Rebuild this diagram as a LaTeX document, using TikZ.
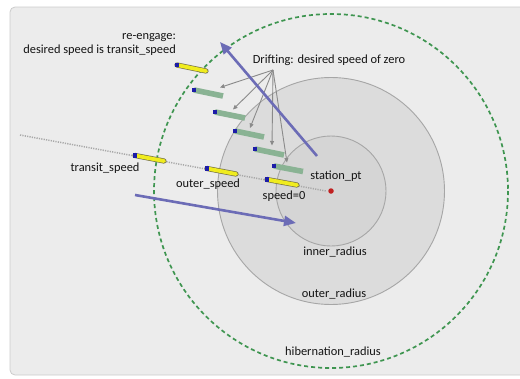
\documentclass[tikz,border=0pt]{standalone}
\usepackage{fontspec}
\setmainfont{Carlito}
\usetikzlibrary{arrows.meta}
\definecolor{panelbg}{HTML}{ECECEC}
\definecolor{panelrule}{HTML}{CBCBCB}
\definecolor{outerfill}{HTML}{DCDCDC}
\definecolor{innerfill}{HTML}{D5D5D5}
\definecolor{ringrule}{HTML}{A6A6A6}
\definecolor{hibgreen}{HTML}{3E9550}
\definecolor{pathgray}{HTML}{A8A8A8}
\definecolor{baryellow}{HTML}{F0EC1E}
\definecolor{barrim}{HTML}{7A7648}
\definecolor{bargreen}{HTML}{8AB394}
\definecolor{bowblue}{HTML}{1C1CA8}
\definecolor{movearrow}{HTML}{6C6CB6}
\definecolor{pointer}{HTML}{8A8A8A}
\definecolor{stationred}{HTML}{C02020}
\tikzset{
  label/.style={font=\fontsize{12.4}{14}\selectfont, inner sep=0pt, text=black!92},
  ybar/.style={line width=0.7pt, draw=barrim, double=baryellow, double distance=3.8pt, line cap=round},
  gbar/.style={line width=5.6pt, draw=bargreen, line cap=butt},
  bow/.style={fill=bowblue, inner sep=0pt, minimum size=4.8pt, rectangle},
  movement/.style={draw=movearrow, line width=2.6pt, -{Triangle[length=12pt,width=10pt]}},
  drift/.style={draw=pointer, line width=0.9pt, -{Triangle[length=4.5pt,width=4pt]}},
}
\begin{document}
\begin{tikzpicture}[x=1pt,y=-1pt]
\useasboundingbox (0,0) rectangle (520,378);
% panel
\draw[fill=panelbg, draw=panelrule, line width=0.8pt, rounded corners=5pt] (10,7) rectangle (530,375);
\clip (10,7) rectangle (520,375);
% station and its radii
\coordinate (stn) at (331,191);
\draw[fill=outerfill, draw=ringrule, line width=0.9pt] (stn) circle (113.5);
\draw[fill=innerfill, draw=ringrule, line width=0.9pt] (stn) circle (55);
\draw[hibgreen, line width=1.7pt, dash pattern=on 4pt off 3pt] (stn) circle (177);
% approach track
\coordinate (trackstart) at (20,135);
\coordinate (trackend) at (326,191);
\draw[pathgray, line width=1.5pt, dash pattern=on 1.2pt off 1.2pt] (trackstart) -- (trackend);
% vehicle positions at transit, outer and zero speed
\coordinate (t1) at (135,155.5); \coordinate (t2) at (164,161);
\coordinate (o1) at (207,168.5); \coordinate (o2) at (236,174);
\coordinate (z1) at (267,179.5); \coordinate (z2) at (297,185);
\draw[ybar] (t1) -- (t2); \node[bow] at (t1) {};
\draw[ybar] (o1) -- (o2); \node[bow] at (o1) {};
\draw[ybar] (z1) -- (z2); \node[bow] at (z1) {};
% re-engage position
\coordinate (r1) at (177,65); \coordinate (r2) at (206,71);
\draw[ybar] (r1) -- (r2); \node[bow] at (r1) {};
% drifting positions
\coordinate (d1a) at (194,90);  \coordinate (d1b) at (223,96);
\coordinate (d2a) at (215,112); \coordinate (d2b) at (245,118);
\coordinate (d3a) at (235,131); \coordinate (d3b) at (264,137);
\coordinate (d4a) at (255,149); \coordinate (d4b) at (284,155);
\coordinate (d5a) at (274,166); \coordinate (d5b) at (303,171.5);
\foreach \k in {1,...,5} {
  \draw[gbar] (d\k a) -- (d\k b);
  \node[bow] at (d\k a) {};
}
% station point
\node[circle, fill=stationred, inner sep=0pt, minimum size=5.5pt] (stationdot) at (stn) {};
% pointers from the drifting note
\coordinate (hub) at (273,70);
\coordinate (p1) at (220,87.5);
\coordinate (p2) at (233,109.5);
\coordinate (p3) at (250,128);
\coordinate (p4) at (272,145.5);
\coordinate (p5) at (287,162.5);
\foreach \k in {1,...,5} { \draw[drift] (hub) -- (p\k); }
% movement arrows
\coordinate (leavefrom) at (317,156);
\coordinate (leaveto) at (220,42);
\draw[movement] (leavefrom) -- (leaveto);
\coordinate (arrivefrom) at (135,195);
\coordinate (arriveto) at (296,223);
\draw[movement] (arrivefrom) -- (arriveto);
% labels
\node[label, align=right, anchor=east] (reengage) at (176,44) {re-engage:\\desired speed is transit\_speed};
\node[label] (drifting) at (329,60) {Drifting: desired speed of zero};
\node[label] (transit) at (105,168) {transit\_speed};
\node[label] (outerspeed) at (208,184) {outer\_speed};
\node[label] (stationpt) at (336,176) {station\_pt};
\node[label] (zerospeed) at (284,196) {speed=0};
\node[label] (innerr) at (335,252) {inner\_radius};
\node[label] (outerr) at (334,294) {outer\_radius};
\node[label] (hibr) at (333,352) {hibernation\_radius};
\end{tikzpicture}
\end{document}
